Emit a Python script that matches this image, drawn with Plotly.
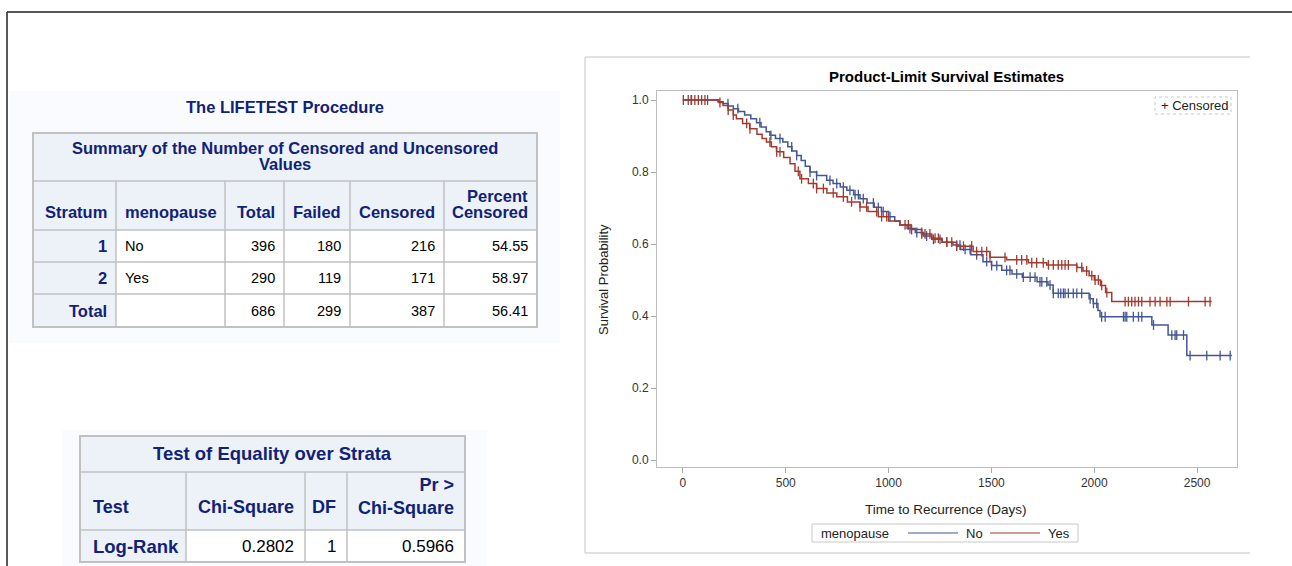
import numpy as np
import plotly.graph_objects as go

W, H = 1292, 566

# ---------------- data ----------------
summary_title = ["Summary of the Number of Censored and Uncensored", "Values"]
summary_headers = ["Stratum", "menopause", "Total", "Failed", "Censored", "Percent Censored"]
stratum = ["1", "2", "Total"]
menopause = ["No", "Yes", ""]
total = [396, 290, 686]
failed = [180, 119, 299]
censored = [216, 171, 387]
pct_censored = ["54.55", "58.97", "56.41"]

test_title = "Test of Equality over Strata"
test_headers = ["Test", "Chi-Square", "DF", "Pr > Chi-Square"]
test_name = ["Log-Rank"]
chi_square = ["0.2802"]
df_vals = ["1"]
p_values = ["0.5966"]

# Kaplan-Meier step estimates (time in days, survival)
no_time = [0, 170, 195, 220, 245, 270, 300, 330, 358, 380, 405, 423, 450, 486, 510, 530, 553,
           575, 595, 618, 650, 699, 730, 765, 797, 830, 861, 895, 930, 965, 1000, 1030, 1055,
           1090, 1130, 1170, 1210, 1260, 1313, 1350, 1400, 1459, 1500, 1550, 1600, 1650, 1722,
           1775, 1800, 1975, 1995, 2018, 2028, 2280, 2359, 2450]
no_surv = [1.000, 0.995, 0.990, 0.983, 0.976, 0.968, 0.958, 0.948, 0.937, 0.925, 0.912, 0.902,
           0.893, 0.883, 0.870, 0.858, 0.846, 0.832, 0.816, 0.800, 0.790, 0.777, 0.768, 0.758,
           0.749, 0.737, 0.726, 0.714, 0.702, 0.690, 0.676, 0.664, 0.653, 0.643, 0.632, 0.622,
           0.613, 0.605, 0.597, 0.585, 0.570, 0.551, 0.540, 0.527, 0.517, 0.508, 0.495, 0.486,
           0.463, 0.448, 0.435, 0.415, 0.398, 0.375, 0.347, 0.290]
no_end = 2669
no_cens = [40, 120, 219, 267, 374, 428, 472, 529, 553, 618, 650, 715, 748, 780, 812, 837, 853,
           877, 926, 950, 974, 1007, 1104, 1137, 1161, 1185, 1218, 1250, 1283, 1331, 1347, 1372,
           1396, 1428, 1477, 1501, 1526, 1574, 1590, 1623, 1655, 1688, 1712, 1736, 1745, 1769,
           1785, 1801, 1825, 1837, 1850, 1858, 1874, 1898, 1915, 1939, 1980, 1996, 2012, 2036,
           2053, 2142, 2150, 2158, 2190, 2215, 2231, 2288, 2377, 2393, 2401, 2434, 2466, 2547,
           2612, 2661]

yes_time = [0, 175, 195, 220, 245, 260, 290, 325, 360, 385, 406, 430, 455, 490, 521, 545, 569,
            610, 650, 700, 748, 800, 861, 900, 950, 1000, 1055, 1110, 1160, 1210, 1260, 1330,
            1411, 1493, 1574, 1680, 1769, 1915, 1945, 1975, 2000, 2030, 2055, 2085]
yes_surv = [1.000, 0.993, 0.985, 0.972, 0.958, 0.948, 0.935, 0.920, 0.905, 0.893, 0.883, 0.870,
            0.856, 0.840, 0.823, 0.802, 0.781, 0.768, 0.754, 0.742, 0.731, 0.717, 0.703, 0.690,
            0.676, 0.664, 0.653, 0.640, 0.628, 0.616, 0.605, 0.594, 0.579, 0.563, 0.556, 0.548,
            0.542, 0.535, 0.525, 0.512, 0.500, 0.485, 0.465, 0.440]
yes_end = 2571
yes_cens = [2, 26, 42, 58, 75, 91, 107, 180, 220, 245, 310, 326, 423, 456, 472, 561, 577, 634,
            650, 683, 731, 780, 820, 861, 893, 942, 966, 991, 1080, 1096, 1112, 1161, 1177, 1201,
            1226, 1242, 1283, 1307, 1331, 1364, 1404, 1428, 1453, 1477, 1493, 1566, 1623, 1647,
            1672, 1696, 1720, 1752, 1777, 1801, 1825, 1842, 1858, 1874, 1915, 1939, 1963, 1988,
            2004, 2020, 2036, 2061, 2150, 2166, 2182, 2198, 2215, 2231, 2271, 2296, 2320, 2353,
            2369, 2458, 2539, 2563]

x_ticks = [0, 500, 1000, 1500, 2000, 2500]
y_ticks = [0.0, 0.2, 0.4, 0.6, 0.8, 1.0]

BLUE = "#445694"
RED = "#A23A2E"
NAVY = "#112277"
HDR = "#EDF2F9"
GRID = "#C1C1C1"
PANEL = "#FAFBFE"
FONT = "Liberation Sans, Arial, sans-serif"


def px(x):
    return x / W


def py(y):
    return 1 - y / H


shapes = []
annotations = []


def rect(x0, y0, x1, y1, fill=None, color=None, width=1, dash=None, layer="below"):
    line = dict(color=color if color else "rgba(0,0,0,0)", width=width if color else 0)
    if dash:
        line["dash"] = dash
    shapes.append(dict(type="rect", xref="paper", yref="paper", x0=px(x0), x1=px(x1),
                       y0=py(y1), y1=py(y0), fillcolor=fill if fill else "rgba(0,0,0,0)",
                       line=line, layer=layer))


def hline(x0, x1, y, color, width=1, layer="below"):
    shapes.append(dict(type="line", xref="paper", yref="paper", x0=px(x0), x1=px(x1),
                       y0=py(y), y1=py(y), line=dict(color=color, width=width), layer=layer))


def vline(x, y0, y1, color, width=1, layer="below"):
    shapes.append(dict(type="line", xref="paper", yref="paper", x0=px(x), x1=px(x),
                       y0=py(y0), y1=py(y1), line=dict(color=color, width=width), layer=layer))


def text(x, y, s, size=12, color="#000", bold=False, anchor="center", family=FONT, angle=0,
         align="center"):
    annotations.append(dict(xref="paper", yref="paper", x=px(x), y=py(y),
                            text=f"<b>{s}</b>" if bold else s, showarrow=False,
                            xanchor=anchor, yanchor="middle", textangle=angle, align=align,
                            font=dict(family=family, size=size, color=color)))


# ---------------- page frame ----------------
hline(7, W, 12, "#222", 1.5)
vline(7, 12, H, "#222", 1.5)

# ---------------- summary table ----------------
rect(10, 91, 560, 343, fill=PANEL)
text(285, 107, "The LIFETEST Procedure", 16.5, NAVY, True)
cx = [33, 116, 225, 284, 350, 444, 537]
ry = [133, 181, 230, 262, 294, 327]
rect(cx[0], ry[0], cx[-1], ry[2], fill=HDR)
rect(cx[0], ry[2], cx[1], ry[5], fill=HDR)
rect(cx[1], ry[2], cx[-1], ry[5], fill="#FFFFFF")
for y in ry[1:-1]:
    hline(cx[0], cx[-1], y, GRID, 1.5)
for x in cx[1:-1]:
    vline(x, ry[1], ry[-1], GRID, 1.5)
rect(cx[0], ry[0], cx[-1], ry[-1], color=GRID, width=2)
HS = 16.5
text(285, 148, summary_title[0], HS, NAVY, True)
text(285, 164, summary_title[1], HS, NAVY, True)
pad = 7
for i, hname in enumerate(summary_headers):
    parts = hname.split(" ") if hname == "Percent Censored" else [hname]
    if i == 1:
        xpos, anc = cx[1] + pad, "left"
    else:
        xpos, anc = cx[i + 1] - pad, "right"
    if len(parts) == 2:
        text(xpos, 196, parts[0], HS, NAVY, True, anc)
        text(xpos, 212, parts[1], HS, NAVY, True, anc)
    else:
        text(xpos, 212, parts[0], HS, NAVY, True, anc)
rows = list(zip(stratum, menopause, total, failed, censored, pct_censored))
for r, row in enumerate(rows):
    yc = (ry[r + 2] + ry[r + 3]) / 2
    text(cx[1] - pad, yc, row[0], HS, NAVY, True, "right")
    text(cx[1] + pad, yc, row[1], 14.5, "#000", False, "left")
    for j in range(2, 6):
        text(cx[j + 1] - pad, yc, str(row[j]), 14.5, "#000", False, "right")

# ---------------- test table ----------------
rect(62, 430, 487, H, fill=PANEL)
tx = [80, 186, 305, 347, 465]
ty = [436, 472, 530, 562]
rect(tx[0], ty[0], tx[-1], ty[2], fill=HDR)
rect(tx[0], ty[2], tx[1], ty[3], fill=HDR)
rect(tx[1], ty[2], tx[-1], ty[3], fill="#FFFFFF")
for y in ty[1:-1]:
    hline(tx[0], tx[-1], y, GRID, 1.5)
for x in tx[1:-1]:
    vline(x, ty[1], ty[-1], GRID, 1.5)
rect(tx[0], ty[0], tx[-1], ty[-1], color=GRID, width=2)
TS = 18
text((tx[0] + tx[-1]) / 2, 453, test_title, 18.5, NAVY, True)
for i, hname in enumerate(test_headers):
    if i == 0:
        xpos, anc = tx[0] + 11, "left"
    else:
        xpos, anc = tx[i + 1] - 9, "right"
    if hname.startswith("Pr >"):
        text(xpos, 496, "Pr &gt;<br>Chi-Square", TS, NAVY, True, anc, align="right")
    else:
        text(xpos, 507, hname, TS, NAVY, True, anc)
for r in range(len(test_name)):
    yc = (ty[2] + ty[3]) / 2
    text(tx[0] + 11, yc, test_name[r], 18.5, NAVY, True, "left")
    text(tx[2] - 9, yc, chi_square[r], 17, "#000", False, "right")
    text(tx[3] - 9, yc, df_vals[r], 17, "#000", False, "right")
    text(tx[4] - 9, yc, p_values[r], 17, "#000", False, "right")

# ---------------- chart panel ----------------
rect(585, 57, 1250, 553, fill="#FFFFFF")
hline(585, 1250, 57, "#D8D8D8", 1.5)
hline(585, 1250, 553, "#D8D8D8", 1.5)
vline(585, 57, 553, "#D8D8D8", 1.5)
text(946, 76, "Product-Limit Survival Estimates", 15, "#000", True, "center")
text(946, 509, "Time to Recurrence (Days)", 13.5, "#222", False, "center")
text(603, 280, "Survival Probability", 13, "#222", False, "center", FONT, -90)

# censored legend
rect(1155, 97, 1231, 114, color="#C8C8C8", width=1, dash="dot", layer="above")
text(1159, 105.5, "+ Censored", 13, "#222", False, "left")

# group legend
rect(812, 524, 1078, 542, color="#C8C8C8", width=1, layer="above")
text(819, 533, "menopause", 13, "#222", False, "left")
hline(908, 958, 533, BLUE, 1.2, "above")
text(964, 533, "No", 13, "#222", False, "left")
hline(990, 1040, 533, RED, 1.2, "above")
text(1046, 533, "Yes", 13, "#222", False, "left")


def step_at(times, surv, t):
    idx = np.searchsorted(np.asarray(times), np.asarray(t), side="right") - 1
    return np.asarray(surv)[idx]


fig = go.Figure()
for times, surv, end, cens, col, name in [
    (no_time, no_surv, no_end, no_cens, BLUE, "No"),
    (yes_time, yes_surv, yes_end, yes_cens, RED, "Yes"),
]:
    fig.add_trace(go.Scatter(x=list(times) + [end], y=list(surv) + [surv[-1]], mode="lines",
                             line=dict(color=col, width=1.5, shape="hv"), name=name,
                             showlegend=False, hoverinfo="skip"))
    fig.add_trace(go.Scatter(x=cens, y=step_at(times, surv, cens), mode="markers",
                             marker=dict(symbol="line-ns", size=7, color=col,
                                         line=dict(color=col, width=1.3)),
                             showlegend=False, hoverinfo="skip"))

axis_common = dict(showline=True, mirror=True, linecolor="#BDBDBD", linewidth=1,
                   ticks="outside", ticklen=5, tickcolor="#A8A8A8", showgrid=False,
                   zeroline=False, tickfont=dict(family=FONT, size=12, color="#333"))
fig.update_layout(
    width=W, height=H, margin=dict(l=0, r=0, t=0, b=0),
    paper_bgcolor="#FFFFFF", plot_bgcolor="rgba(0,0,0,0)",
    xaxis=dict(domain=[px(657), px(1237)], range=[-126, 2694], tickvals=x_ticks, **axis_common),
    yaxis=dict(domain=[py(467), py(91)], range=[-0.0194, 1.025], tickvals=y_ticks,
               tickformat=".1f", **axis_common),
    shapes=shapes, annotations=annotations, showlegend=False,
)
fig.write_html("out.html")
